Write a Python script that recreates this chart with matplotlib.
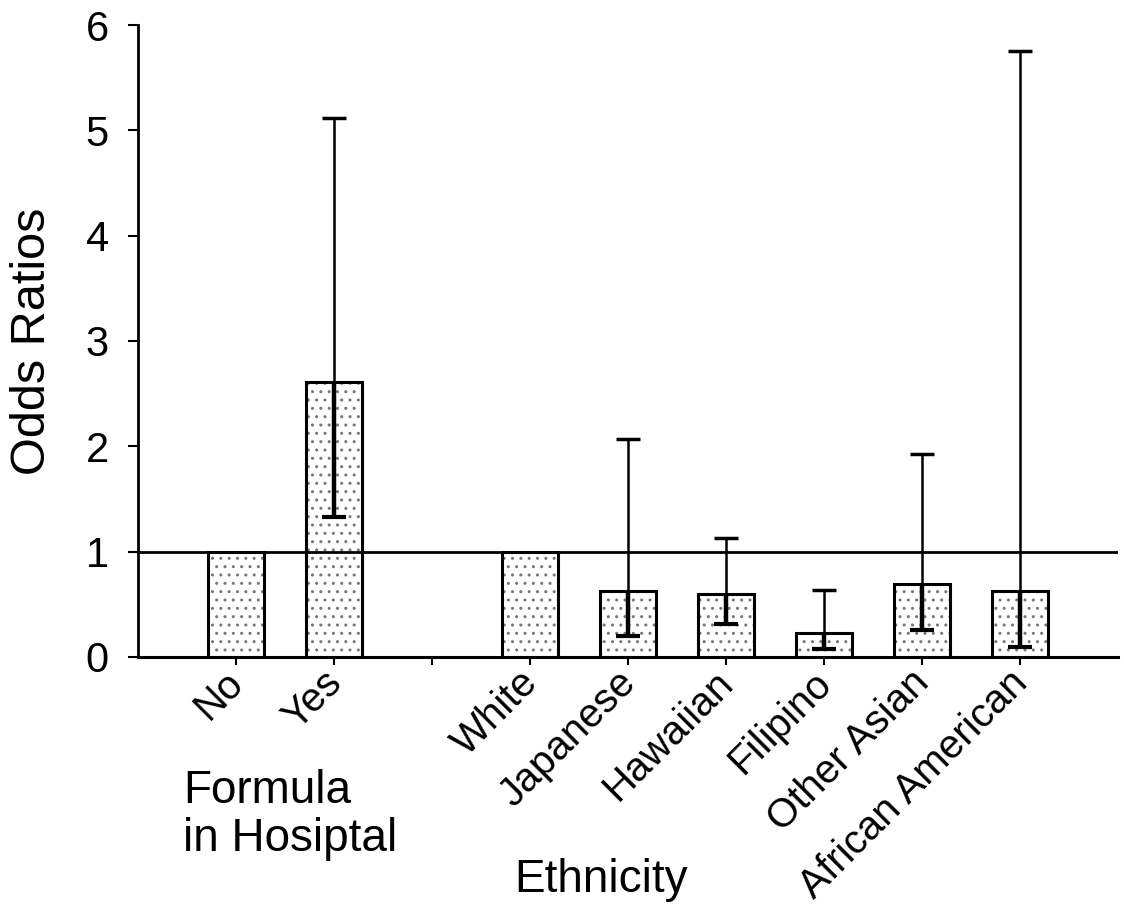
import matplotlib.pyplot as plt
import matplotlib.transforms as mtransforms
import numpy as np

plt.rcParams['font.family'] = ['Liberation Sans', 'DejaVu Sans']

# data
labels = ["No", "Yes", "", "White", "Japanese", "Hawaiian", "Filipino", "Other Asian", "African American"]
odds = [1.0, 2.61, np.nan, 1.0, 0.63, 0.60, 0.23, 0.69, 0.63]
ci_low = [np.nan, 1.33, np.nan, np.nan, 0.20, 0.31, 0.08, 0.26, 0.09]
ci_high = [np.nan, 5.12, np.nan, np.nan, 2.07, 1.13, 0.64, 1.93, 5.75]

x = np.arange(1, len(labels) + 1)
odds = np.array(odds)
ci_low = np.array(ci_low)
ci_high = np.array(ci_high)

fig = plt.figure(figsize=(11.24, 9.16), dpi=100)
ax = fig.add_axes([0.1228, 0.2828, 0.8719, 0.6899])

# stippled bars: dotted fill first, then black outline
ax.bar(x, odds, width=0.58, color="white", edgecolor="#777777", hatch="..", linewidth=0)
ax.bar(x, odds, width=0.58, fill=False, edgecolor="black", linewidth=2.2, zorder=3)

# reference line at OR = 1
ax.axhline(1, color="black", linewidth=2, zorder=2)

# confidence intervals: lower part thick, upper part thin
has_ci = ~np.isnan(ci_low)
ax.vlines(x[has_ci], ci_low[has_ci], odds[has_ci], color="black", linewidth=3.2, zorder=4)
ax.vlines(x[has_ci], odds[has_ci], ci_high[has_ci], color="black", linewidth=1.8, zorder=4)
ax.plot(x[has_ci], ci_low[has_ci], ls="none", marker="_", ms=17, mew=3, color="black", zorder=5)
ax.plot(x[has_ci], ci_high[has_ci], ls="none", marker="_", ms=17, mew=2.5, color="black", zorder=5)

ax.set_xlim(0, 10)
ax.set_ylim(0, 6)
ax.set_yticks(range(0, 7))
ax.set_xticks(x)
ax.set_xticklabels(labels, rotation=45, ha="right", rotation_mode="anchor", fontsize=29)
ax.tick_params(axis="y", labelsize=30, length=7, width=1.5, direction="out", pad=14)
ax.tick_params(axis="x", length=6, width=1.5, direction="out", pad=0)

# nudge the slanted labels a little left, like the original
shift = mtransforms.ScaledTranslation(-12 / 100, 2 / 100, fig.dpi_scale_trans)
for lab in ax.get_xticklabels():
    lab.set_transform(lab.get_transform() + shift)

for s in ["top", "right"]:
    ax.spines[s].set_visible(False)
ax.spines["left"].set_linewidth(2)
ax.spines["bottom"].set_linewidth(2.2)

ax.set_ylabel("Odds Ratios", fontsize=35, labelpad=22)

fig.text(183 / 1124, 1 - 815 / 916, "Formula\nin Hosiptal", fontsize=33, ha="left", va="center",
         linespacing=1.1)
fig.text(601 / 1124, 1 - 880 / 916, "Ethnicity", fontsize=33, ha="center", va="center")

fig.savefig("out.png", dpi=100)
